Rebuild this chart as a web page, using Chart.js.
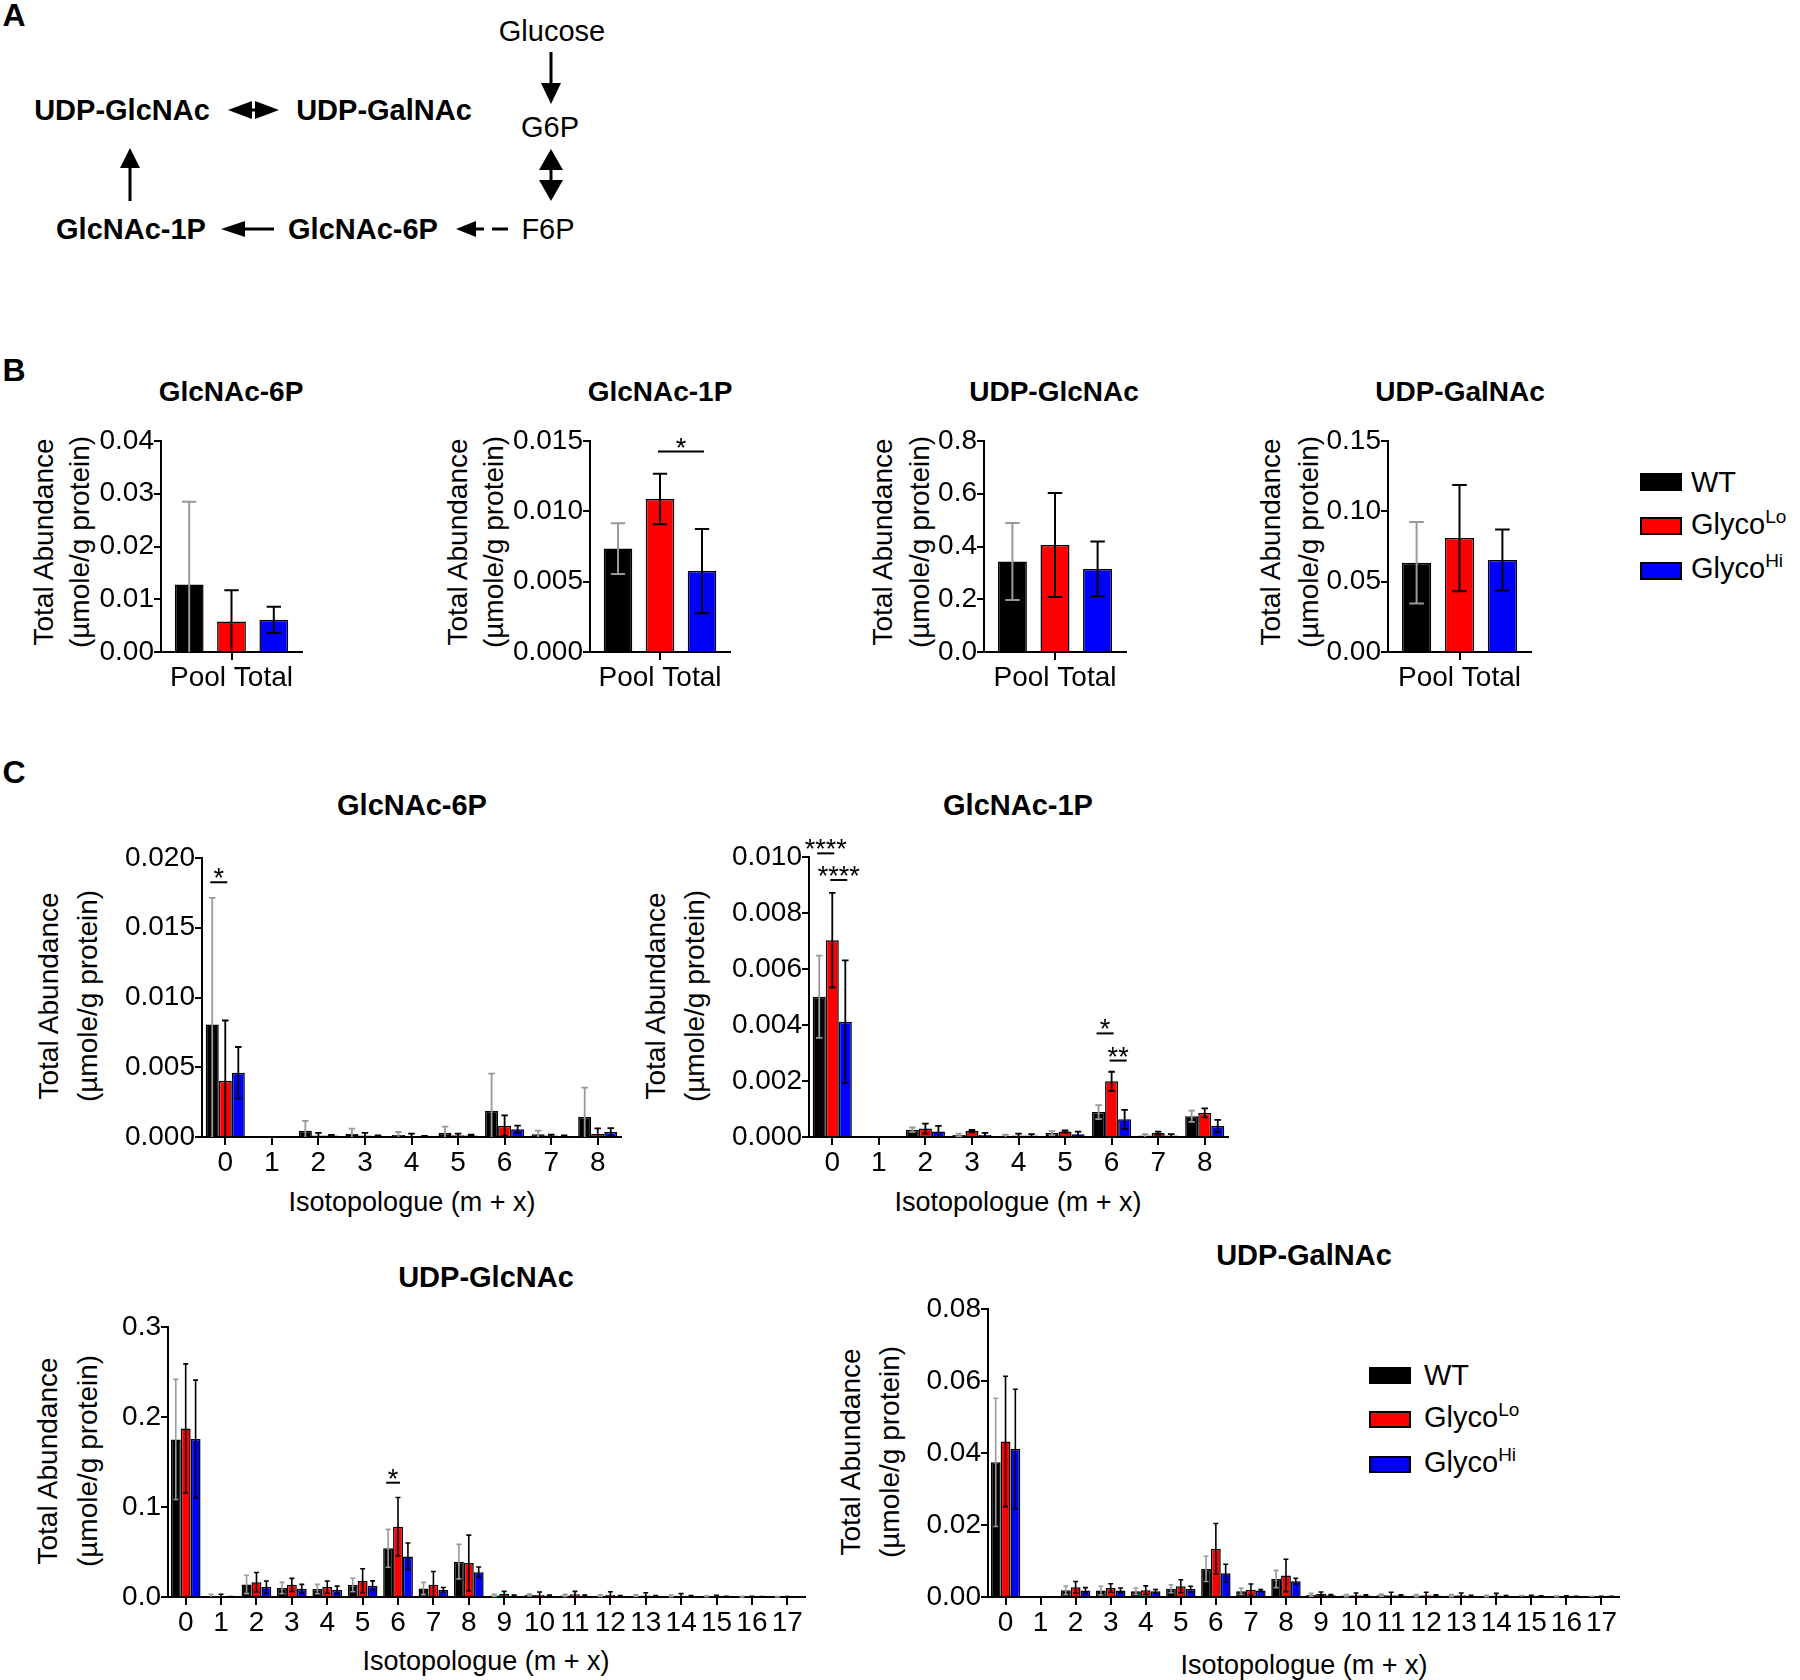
<!DOCTYPE html>
<html>
<head>
<meta charset="utf-8">
<script src="https://cdn.jsdelivr.net/npm/chart.js@4.4.1/dist/chart.umd.min.js"></script>
<style>
body { margin:0; background:#fff; }
#page { position:relative; width:1800px; height:1680px; font-family:'Liberation Sans', Arial, Helvetica, sans-serif; color:#000; overflow:hidden; }
.t { position:absolute; white-space:nowrap; line-height:1; transform:translate(-50%,-50%); }
.b { font-weight:bold; }
.ylab { position:absolute; white-space:nowrap; line-height:1; transform:translate(-50%,-50%) rotate(-90deg); font-size:28px; }
.lt { position:absolute; white-space:nowrap; line-height:1; transform:translateY(-50%); font-size:29px; }
.box { position:absolute; width:42px; height:18px; box-sizing:border-box; border:2px solid #000; }
.sp { font-size:19px; position:relative; top:-11px; }
canvas { position:absolute; }
</style>
</head>
<body>
<div id="page">

<!-- panel letters -->
<div class="t b" style="left:14px;top:15px;font-size:32px">A</div>
<div class="t b" style="left:14px;top:370px;font-size:32px">B</div>
<div class="t b" style="left:14px;top:772px;font-size:32px">C</div>

<!-- panel A pathway -->
<svg width="620" height="260" style="position:absolute;left:0;top:0" fill="#000" stroke="#000">
  <line x1="551" y1="52" x2="551" y2="88" stroke-width="3"/>
  <polygon points="541,83 561,83 551,104" stroke="none"/>
  <polygon points="551,149 539,170 563,170" stroke="none"/>
  <line x1="551" y1="168" x2="551" y2="182" stroke-width="3"/>
  <polygon points="539,180 563,180 551,201" stroke="none"/>
  <polygon points="228,110 252,101 252,119" stroke="none"/>
  <line x1="250" y1="110" x2="257" y2="110" stroke-width="3"/>
  <polygon points="279,110 255,101 255,119" stroke="none"/>
  <polygon points="130,148 120,168 140,168" stroke="none"/>
  <line x1="130" y1="166" x2="130" y2="201" stroke-width="3"/>
  <polygon points="221,229 245,221 245,237" stroke="none"/>
  <line x1="243" y1="229" x2="274" y2="229" stroke-width="3"/>
  <polygon points="456,229 476,221 476,237" stroke="none"/>
  <line x1="474" y1="229" x2="484" y2="229" stroke-width="3"/>
  <line x1="492" y1="229" x2="508" y2="229" stroke-width="3"/>
</svg>
<div class="t" style="left:552px;top:31px;font-size:29px">Glucose</div>
<div class="t" style="left:550px;top:127px;font-size:29px">G6P</div>
<div class="t" style="left:548px;top:229px;font-size:29px">F6P</div>
<div class="t b" style="left:122px;top:110px;font-size:29px">UDP-GlcNAc</div>
<div class="t b" style="left:384px;top:110px;font-size:29px">UDP-GalNAc</div>
<div class="t b" style="left:131px;top:229px;font-size:29px">GlcNAc-1P</div>
<div class="t b" style="left:363px;top:229px;font-size:29px">GlcNAc-6P</div>

<!-- panel B titles and axis labels -->
<div class="t b" style="left:231px;top:392px;font-size:28px">GlcNAc-6P</div>
<div class="t b" style="left:660px;top:392px;font-size:28px">GlcNAc-1P</div>
<div class="t b" style="left:1054px;top:392px;font-size:28px">UDP-GlcNAc</div>
<div class="t b" style="left:1460px;top:392px;font-size:28px">UDP-GalNAc</div>

<div class="ylab" style="left:44px;top:542px">Total Abundance</div>
<div class="ylab" style="left:80px;top:542px">(µmole/g protein)</div>
<div class="ylab" style="left:458px;top:542px">Total Abundance</div>
<div class="ylab" style="left:494px;top:542px">(µmole/g protein)</div>
<div class="ylab" style="left:883px;top:542px">Total Abundance</div>
<div class="ylab" style="left:920px;top:542px">(µmole/g protein)</div>
<div class="ylab" style="left:1271px;top:542px">Total Abundance</div>
<div class="ylab" style="left:1309px;top:542px">(µmole/g protein)</div>

<!-- legend B -->
<div class="box" style="left:1640px;top:473px;background:#000"></div>
<div class="box" style="left:1640px;top:517px;background:#ff0000"></div>
<div class="box" style="left:1640px;top:562px;background:#0000ff"></div>
<div class="lt" style="left:1691px;top:482px">WT</div>
<div class="lt" style="left:1691px;top:524px">Glyco<span class="sp">Lo</span></div>
<div class="lt" style="left:1691px;top:568px">Glyco<span class="sp">Hi</span></div>

<!-- panel C titles and axis labels -->
<div class="t b" style="left:412px;top:805px;font-size:29px">GlcNAc-6P</div>
<div class="t b" style="left:1018px;top:805px;font-size:29px">GlcNAc-1P</div>
<div class="t b" style="left:486px;top:1277px;font-size:29px">UDP-GlcNAc</div>
<div class="t b" style="left:1304px;top:1255px;font-size:29px">UDP-GalNAc</div>

<div class="ylab" style="left:49px;top:996px">Total Abundance</div>
<div class="ylab" style="left:88px;top:996px">(µmole/g protein)</div>
<div class="ylab" style="left:656px;top:996px">Total Abundance</div>
<div class="ylab" style="left:695px;top:996px">(µmole/g protein)</div>
<div class="ylab" style="left:48px;top:1461px">Total Abundance</div>
<div class="ylab" style="left:88px;top:1461px">(µmole/g protein)</div>
<div class="ylab" style="left:851px;top:1452px">Total Abundance</div>
<div class="ylab" style="left:890px;top:1452px">(µmole/g protein)</div>

<div class="t" style="left:412px;top:1202px;font-size:27px">Isotopologue (m + x)</div>
<div class="t" style="left:1018px;top:1202px;font-size:27px">Isotopologue (m + x)</div>
<div class="t" style="left:486px;top:1661px;font-size:27px">Isotopologue (m + x)</div>
<div class="t" style="left:1304px;top:1665px;font-size:27px">Isotopologue (m + x)</div>

<!-- legend C -->
<div class="box" style="left:1369px;top:1367px;height:17px;background:#000"></div>
<div class="box" style="left:1369px;top:1411px;height:17px;background:#ff0000"></div>
<div class="box" style="left:1369px;top:1456px;height:17px;background:#0000ff"></div>
<div class="lt" style="left:1424px;top:1375px">WT</div>
<div class="lt" style="left:1424px;top:1417px">Glyco<span class="sp">Lo</span></div>
<div class="lt" style="left:1424px;top:1462px">Glyco<span class="sp">Hi</span></div>

<canvas id="b1"></canvas>
<canvas id="b2"></canvas>
<canvas id="b3"></canvas>
<canvas id="b4"></canvas>
<canvas id="c1"></canvas>
<canvas id="c2"></canvas>
<canvas id="c3"></canvas>
<canvas id="c4"></canvas>
</div>

<script>
/* categories */
const groupNames = ["WT", "GlycoLo", "GlycoHi"];
const poolLabels = ["Pool Total"];
const iso0to8 = ["0", "1", "2", "3", "4", "5", "6", "7", "8"];
const iso0to17 = ["0", "1", "2", "3", "4", "5", "6", "7", "8", "9",
    "10", "11", "12", "13", "14", "15", "16", "17"];

/* B: pool totals (WT, GlycoLo, GlycoHi), mean and SD */
const poolG6pMean = [0.0128, 0.0058, 0.0061];
const poolG6pSd = [0.0157, 0.0059, 0.0025];
const poolG1pMean = [0.00735, 0.01088, 0.00575];
const poolG1pSd = [0.0018, 0.0018, 0.0030];
const poolUdpGlcMean = [0.343, 0.406, 0.315];
const poolUdpGlcSd = [0.146, 0.197, 0.104];
const poolUdpGalMean = [0.0635, 0.081, 0.0654];
const poolUdpGalSd = [0.0290, 0.0378, 0.0217];

/* C: GlcNAc-6P isotopologues */
const g6pWT = [0.00807, 0, 0.00045, 0.00024, 0.00014, 0.00029, 0.00189, 0.00019, 0.00143];
const g6pWTsd = [0.00907, 0, 0.0007, 0.00036, 0.00022, 0.00045, 0.00265, 0.00026, 0.00211];
const g6pLo = [0.00403, 0, 0.0001, 0.0001, 0.00007, 0.00012, 0.00081, 0.0001, 0.00021];
const g6pLoSd = [0.00432, 0, 0.0002, 0.00019, 0.00017, 0.00012, 0.00074, 0.00007, 0.00041];
const g6pHi = [0.00461, 0, 0.0001, 0.00007, 0.00005, 0.0001, 0.00055, 0.00007, 0.00036];
const g6pHiSd = [0.00184, 0, 0.00005, 0.00004, 0.00003, 0.00006, 0.00026, 0.00004, 0.00028];

/* C: GlcNAc-1P isotopologues */
const g1pWT = [0.00501, 0, 0.00026, 0.00007, 0.00004, 0.00014, 0.00089, 0.00005, 0.00074];
const g1pWTsd = [0.00147, 0, 0.00008, 0.00005, 0.00004, 0.00007, 0.00025, 0.00005, 0.0002];
const g1pLo = [0.00703, 0, 0.0003, 0.00021, 0.00005, 0.0002, 0.00199, 0.00014, 0.00086];
const g1pLoSd = [0.00169, 0, 0.00018, 0.00004, 0.00007, 0.00004, 0.00034, 0.00005, 0.00016];
const g1pHi = [0.00412, 0, 0.0002, 0.00007, 0.00005, 0.0001, 0.00063, 0.00005, 0.00039];
const g1pHiSd = [0.00219, 0, 0.0002, 0.00008, 0.00005, 0.00009, 0.00034, 0.00005, 0.00022];

/* C: UDP-GlcNAc isotopologues */
const udpGlcWT = [0.1751, 0.0015, 0.014, 0.01, 0.0088, 0.0133, 0.0541, 0.0094, 0.0393,
    0.0018, 0.0022, 0.0018, 0.0015, 0.0015, 0.0013, 0.0007, 0.0004, 0.0003];
const udpGlcWTsd = [0.0667, 0.0015, 0.0102, 0.0062, 0.0052, 0.0075, 0.021, 0.0068, 0.0192,
    0.0012, 0.001, 0.0012, 0.001, 0.001, 0.001, 0.0005, 0.0003, 0.0002];
const udpGlcLo = [0.1873, 0.0005, 0.0164, 0.0135, 0.011, 0.0179, 0.078, 0.0137, 0.0377,
    0.0033, 0.0022, 0.003, 0.0022, 0.0018, 0.0015, 0.0007, 0.0004, 0.0003];
const udpGlcLoSd = [0.0717, 0.0025, 0.0109, 0.0072, 0.0068, 0.0135, 0.0325, 0.0147, 0.031,
    0.003, 0.0033, 0.0033, 0.0037, 0.003, 0.0022, 0.0011, 0.0004, 0.0002];
const udpGlcHi = [0.1755, 0.0003, 0.011, 0.0092, 0.0079, 0.0126, 0.0451, 0.0079, 0.0275,
    0.0015, 0.0015, 0.0015, 0.0011, 0.0011, 0.0011, 0.0005, 0.0003, 0.0002];
const udpGlcHiSd = [0.0655, 0.0003, 0.0068, 0.0048, 0.0042, 0.0053, 0.0149, 0.0027, 0.0058,
    0.0008, 0.0008, 0.0008, 0.0006, 0.0006, 0.0006, 0.0003, 0.0002, 0.0001];

/* C: UDP-GalNAc isotopologues */
const udpGalWT = [0.0374, 0, 0.00185, 0.0018, 0.0016, 0.0023, 0.0078, 0.0016, 0.005,
    0.0006, 0.0004, 0.0005, 0.0004, 0.0004, 0.0003, 0.0002, 0.0002, 0.0001];
const udpGalWTsd = [0.0178, 0, 0.0012, 0.0012, 0.0009, 0.0011, 0.0035, 0.0009, 0.0024,
    0.0004, 0.0003, 0.0003, 0.0003, 0.0003, 0.0002, 0.0002, 0.0001, 0.0001];
const udpGalLo = [0.0432, 0, 0.0027, 0.0025, 0.0019, 0.003, 0.0134, 0.002, 0.006,
    0.0009, 0.0005, 0.0005, 0.0005, 0.0005, 0.0004, 0.0002, 0.0002, 0.0001];
const udpGalLoSd = [0.0181, 0, 0.0016, 0.0012, 0.0012, 0.0018, 0.007, 0.0016, 0.0045,
    0.0005, 0.0006, 0.0008, 0.0008, 0.0006, 0.0006, 0.0003, 0.0001, 0.0001];
const udpGalHi = [0.0411, 0, 0.0018, 0.0018, 0.0016, 0.0022, 0.0066, 0.0018, 0.0044,
    0.0005, 0.0004, 0.0004, 0.0004, 0.0003, 0.0003, 0.0002, 0.0001, 0.0001];
const udpGalHiSd = [0.0166, 0, 0.0008, 0.0007, 0.0005, 0.0008, 0.0025, 0.0003, 0.0008,
    0.0002, 0.0002, 0.0002, 0.0002, 0.0002, 0.0001, 0.0001, 0.0001, 0.0001];

/* significance marks: category, from group, to group, height, stars */
const sigG1pPool = [{ cat: 0, from: 1, to: 2, y: 0.01425, text: "*" }];
const sigG6p = [{ cat: 0, from: 0, to: 1, y: 0.01826, text: "*" }];
const sigG1p = [
    { cat: 0, from: 0, to: 1, y: 0.01013, text: "****" },
    { cat: 0, from: 1, to: 2, y: 0.00918, text: "****" },
    { cat: 6, from: 0, to: 1, y: 0.0037, text: "*" },
    { cat: 6, from: 1, to: 2, y: 0.00273, text: "**" }
];
const sigUdpGlc = [{ cat: 6, from: 0, to: 1, y: 0.127, text: "*" }];


/* PLUGINS */

const barColors = ["#000000", "#ff0000", "#0000ff"];
const FONT = "'Liberation Sans', Arial, Helvetica, sans-serif";

Chart.defaults.font.family = FONT;
Chart.defaults.color = "#000";

function errorBarPlugin(lineW)
{
    return {
        id: "errorBars",
        afterDatasetsDraw(chart)
        {
            const ctx = chart.ctx;
            const y = chart.scales.y;
            chart.data.datasets.forEach((ds, i) => {
                chart.getDatasetMeta(i).data.forEach((bar, j) => {
                    const sd = ds.sd[j];
                    if (!sd) return;
                    const m = ds.data[j];
                    const top = y.getPixelForValue(m + sd);
                    const bot = y.getPixelForValue(Math.max(0, m - sd));
                    const half = bar.width * 0.25;
                    ctx.save();
                    ctx.strokeStyle = i === 0 ? "#999999" : "#000000";
                    ctx.lineWidth = lineW;
                    ctx.beginPath();
                    ctx.moveTo(bar.x, top);
                    ctx.lineTo(bar.x, bot);
                    ctx.moveTo(bar.x - half, top);
                    ctx.lineTo(bar.x + half, top);
                    if (m - sd > 0) {
                        ctx.moveTo(bar.x - half, bot);
                        ctx.lineTo(bar.x + half, bot);
                    }
                    ctx.stroke();
                    ctx.restore();
                });
            });
        }
    };
}

function sigPlugin(marks)
{
    return {
        id: "sigMarks",
        afterDatasetsDraw(chart)
        {
            const ctx = chart.ctx;
            const y = chart.scales.y;
            marks.forEach(mk => {
                const a = chart.getDatasetMeta(mk.from).data[mk.cat];
                const b = chart.getDatasetMeta(mk.to).data[mk.cat];
                const py = y.getPixelForValue(mk.y);
                ctx.save();
                ctx.strokeStyle = "#000";
                ctx.lineWidth = 2;
                ctx.beginPath();
                ctx.moveTo(a.x - 2, py);
                ctx.lineTo(b.x + 2, py);
                ctx.stroke();
                ctx.fillStyle = "#000";
                ctx.font = "27px " + FONT;
                ctx.textAlign = "center";
                ctx.textBaseline = "alphabetic";
                ctx.fillText(mk.text, (a.x + b.x) / 2, py + 5);
                ctx.restore();
            });
        }
    };
}


/* CHART BUILDER */

function makeChart(id, box, labels, means, sds, yMax, yStep, digits, catPct, barPct, marks, xH, lineW)
{
    const yW = 110, padTop = 40, padRight = 12;
    const cv = document.getElementById(id);
    const w = yW + (box.right - box.left) + padRight;
    const h = padTop + (box.bottom - box.top) + xH;
    cv.width = w;
    cv.height = h;
    cv.style.width = w + "px";
    cv.style.height = h + "px";
    cv.style.left = (box.left - yW) + "px";
    cv.style.top = (box.top - padTop) + "px";

    return new Chart(cv, {
        type: "bar",
        data: {
            labels: labels,
            datasets: means.map((m, i) => ({
                label: groupNames[i],
                data: m,
                sd: sds[i],
                backgroundColor: barColors[i],
                borderColor: "#000",
                borderWidth: 1.5,
                categoryPercentage: catPct,
                barPercentage: barPct
            }))
        },
        options: {
            responsive: false,
            animation: false,
            devicePixelRatio: 1,
            layout: { padding: { top: padTop, right: padRight, left: 0, bottom: 0 } },
            plugins: { legend: { display: false }, tooltip: { enabled: false } },
            scales: {
                x: {
                    offset: true,
                    grid: { display: true, drawOnChartArea: false, offset: false,
                        color: "#000", lineWidth: 2, tickLength: 8 },
                    border: { display: true, color: "#000", width: 2 },
                    ticks: { font: { size: 28 }, color: "#000", padding: 1,
                        autoSkip: false, maxRotation: 0 },
                    afterFit: s => { s.height = xH; }
                },
                y: {
                    min: 0,
                    max: yMax,
                    grid: { display: true, drawOnChartArea: false,
                        color: "#000", lineWidth: 2, tickLength: 7 },
                    border: { display: true, color: "#000", width: 2 },
                    ticks: { stepSize: yStep, font: { size: 28 }, color: "#000", padding: 0,
                        callback: v => Number(v).toFixed(digits) },
                    afterFit: s => { s.width = yW; }
                }
            }
        },
        plugins: [errorBarPlugin(lineW), sigPlugin(marks)]
    });
}

const one = v => [v];

/* PANEL B */
makeChart("b1", { left: 161, right: 302, top: 441, bottom: 652 }, poolLabels,
    poolG6pMean.map(one), poolG6pSd.map(one), 0.04, 0.01, 2, 0.9, 0.68, [], 60, 2);
makeChart("b2", { left: 590, right: 730, top: 441, bottom: 652 }, poolLabels,
    poolG1pMean.map(one), poolG1pSd.map(one), 0.015, 0.005, 3, 0.9, 0.68, sigG1pPool, 60, 2);
makeChart("b3", { left: 984, right: 1126, top: 441, bottom: 652 }, poolLabels,
    poolUdpGlcMean.map(one), poolUdpGlcSd.map(one), 0.8, 0.2, 1, 0.9, 0.68, [], 60, 2);
makeChart("b4", { left: 1388, right: 1531, top: 441, bottom: 652 }, poolLabels,
    poolUdpGalMean.map(one), poolUdpGalSd.map(one), 0.15, 0.05, 2, 0.9, 0.68, [], 60, 2);

/* PANEL C */
makeChart("c1", { left: 202, right: 621, top: 858, bottom: 1137 }, iso0to8,
    [g6pWT, g6pLo, g6pHi], [g6pWTsd, g6pLoSd, g6pHiSd],
    0.02, 0.005, 3, 0.84, 1.0, sigG6p, 50, 1.8);
makeChart("c2", { left: 809, right: 1228, top: 857, bottom: 1137 }, iso0to8,
    [g1pWT, g1pLo, g1pHi], [g1pWTsd, g1pLoSd, g1pHiSd],
    0.01, 0.002, 3, 0.84, 1.0, sigG1p, 50, 1.8);
makeChart("c3", { left: 168, right: 805, top: 1327, bottom: 1597 }, iso0to17,
    [udpGlcWT, udpGlcLo, udpGlcHi], [udpGlcWTsd, udpGlcLoSd, udpGlcHiSd],
    0.3, 0.1, 1, 0.84, 1.0, sigUdpGlc, 50, 1.6);
makeChart("c4", { left: 988, right: 1619, top: 1309, bottom: 1597 }, iso0to17,
    [udpGalWT, udpGalLo, udpGalHi], [udpGalWTsd, udpGalLoSd, udpGalHiSd],
    0.08, 0.02, 2, 0.84, 1.0, [], 50, 1.6);
</script>
</body>
</html>
